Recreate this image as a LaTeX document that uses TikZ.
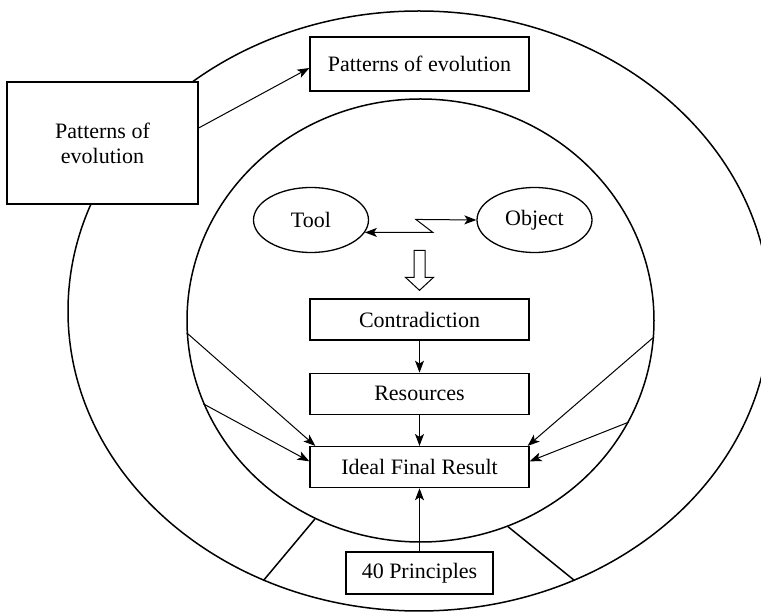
\documentclass[tikz,border=0pt]{standalone}
\usepackage{fontspec}
\setmainfont{Liberation Serif}
\usetikzlibrary{arrows.meta,positioning,shapes.geometric}

\begin{document}
\begin{tikzpicture}[
  x=0.5pt,y=-0.5pt,
  font=\fontsize{11}{12.5}\selectfont,
  >={Stealth[length=6pt,width=4.5pt,inset=1.5pt]},
  ring/.style={ellipse,draw,line width=0.75pt,inner sep=0pt},
  box/.style={draw,line width=0.65pt,fill=white,minimum width=109.5pt,minimum height=20.5pt,inner sep=2pt},
  oval/.style={ellipse,draw,line width=0.65pt,minimum width=57.5pt,minimum height=32.5pt,inner sep=1pt},
  link/.style={->,line width=0.5pt},
  spoke/.style={line width=0.75pt},
]
\useasboundingbox (0,0) rectangle (761,614);

% the two rings
\node[ring,minimum width=351pt,minimum height=300pt] (outer) at (419,311) {};
\node[ring,minimum width=233.5pt,minimum height=221.5pt] (inner) at (420.5,320.5) {};

% bottom sector of the outer ring
\draw[spoke] (inner.242.4) -- (outer.240);
\draw[spoke] (inner.293.4) -- (outer.300.4);

% patterns of evolution
\node[box,minimum width=95.5pt,minimum height=61pt,align=center] (patL) at (102.5,143) {Patterns of\\evolution};
\node[box,minimum height=27pt] (pat) at (419.5,64) {Patterns of evolution};
\draw[link] ([yshift=7.5pt]patL.east) -- ([yshift=-2pt]pat.west);

% tool and object
\node[oval] (tool) at (311,220) {Tool};
\node[oval] (obj) at (534.5,220) {Object};
\draw[link,<->] (tool.-13) -- ++(68,0) -- ++(-17,-13) -- (obj.west);

% main chain
\node[box] (con) at (419.5,319.5) {Contradiction};
\node[box,below=16pt of con] (res) {Resources};
\node[box,below=15.5pt of res] (ifr) {Ideal Final Result};
\node[box,minimum width=73.5pt,minimum height=21pt,below=31.5pt of ifr] (prin) {40 Principles};

% hollow arrow into the contradiction
\draw[line width=0.5pt] ([yshift=4pt]con.north) -- ++(-14,-13) -- ++(8.5,0) -- ++(0,-27)
  -- ++(11,0) -- ++(0,27) -- ++(8.5,0) -- cycle;

\draw[link] (con) -- (res);
\draw[link] (res) -- (ifr);
\draw[link] (prin) -- (ifr);

% arrows from the inner ring
\draw[link] (inner.183.3) -- ([xshift=3pt]ifr.north west);
\draw[link] (inner.201.3) -- (ifr.177);
\draw[link] (inner.356) -- ([xshift=-1pt]ifr.north east);
\draw[link] (inner.-26.3) -- (ifr.3);
\end{tikzpicture}
\end{document}
